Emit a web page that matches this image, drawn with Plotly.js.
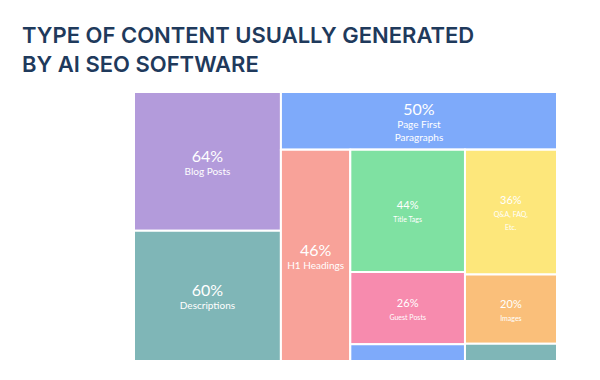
<!DOCTYPE html>
<html>
<head>
<meta charset="utf-8">
<script src="https://cdn.plot.ly/plotly-3.0.1.min.js"></script>
<style>html,body{margin:0;padding:0;background:#fff;}#chart{width:600px;height:380px;}</style>
</head>
<body>
<div id="chart"></div>
<script>
// Hierarchy of tiles (groups are unlabeled containers)
const ids        = ["left", "blog", "desc",
                    "right", "page", "bottom", "h1",
                    "col1", "title", "guest", "small1",
                    "col2", "qa", "images", "small2"];
const parents    = ["", "left", "left",
                    "", "right", "right", "bottom",
                    "bottom", "col1", "col1", "col1",
                    "bottom", "col2", "col2", "col2"];
const categories = ["", "Blog Posts", "Descriptions",
                    "", "Page First<br>Paragraphs", "", "H1 Headings",
                    "", "Title Tags", "Guest Posts", "",
                    "", "Q&A, FAQ,<br>Etc.", "Images", ""];
const shares     = [0, 64, 60,
                    0, 50, 0, 46,
                    0, 44, 26, 6,
                    0, 36, 20, 5];
const colors     = ["#ffffff", "#b39bdb", "#7fb6b7",
                    "#ffffff", "#7eaafa", "#ffffff", "#f8a299",
                    "#ffffff", "#7fe1a2", "#f78bae", "#7eaafa",
                    "#ffffff", "#fde77b", "#fabf7a", "#7fb6b7"];
// text size class per tile: 2 = large tile, 1 = small tile, 0 = no text
const textClass  = [0, 2, 2,
                    0, 2, 0, 2,
                    0, 1, 1, 0,
                    0, 1, 1, 0];

const templates = textClass.map(c => c === 2 ?
    "<span style='font-size:16px'>%{value}%</span><br><span style='font-size:10px'>%{label}</span>" :
  c === 1 ?
    "<span style='font-size:11px'>%{value}%</span><br><span style='font-size:7px'>%{label}</span>" : "");

const trace = {
  type: "treemap",
  ids: ids,
  labels: ids.map((id, i) => categories[i] === "" ? id : categories[i]),
  parents: parents,
  values: shares,
  branchvalues: "remainder",
  texttemplate: templates,
  textposition: "middle center",
  textfont: {family: "Lato, 'Open Sans', sans-serif", size: 10, color: "#ffffff"},
  marker: {colors: colors, line: {color: "#ffffff", width: 2}, pad: {t: 0, l: 0, r: 0, b: 0}, depthfade: false},
  tiling: {packing: "slice-dice", pad: 0},
  pathbar: {visible: false},
  sort: false,
  hoverinfo: "none",
  domain: {x: [134/600, 557/600], y: [1 - 361/380, 1 - 92/380]}
};

const layout = {
  width: 600, height: 380,
  margin: {l: 0, r: 0, t: 0, b: 0},
  paper_bgcolor: "#ffffff",
  title: {
    text: "TYPE OF CONTENT USUALLY GENERATED<br>BY AI SEO SOFTWARE",
    font: {family: "Inter, 'Open Sans', sans-serif", size: 22, color: "#1f3a5c", weight: 600},
    x: 22/600, xanchor: "left", xref: "container",
    y: 1 - 43/380, yanchor: "top", yref: "container"
  }
};

Plotly.newPlot("chart", [trace], layout, {displayModeBar: false, staticPlot: true});
</script>
</body>
</html>
